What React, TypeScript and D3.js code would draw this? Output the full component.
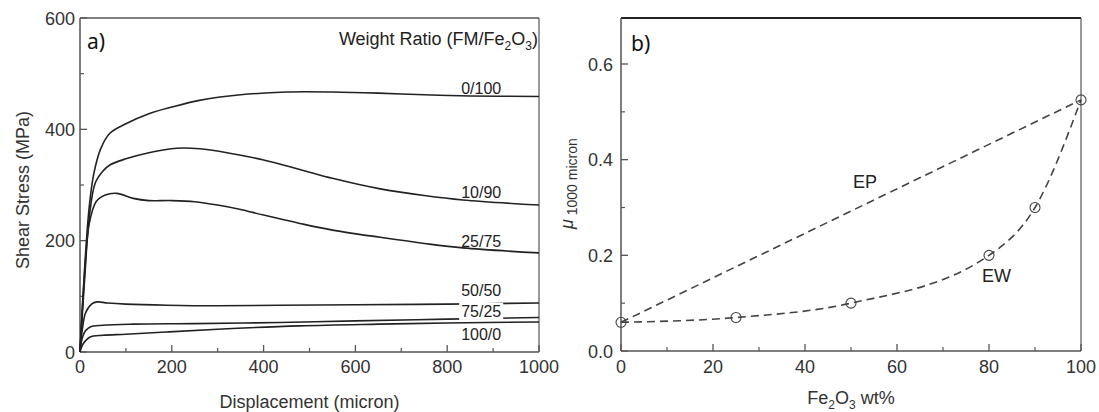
import React from "react";
import * as d3 from "d3";

// ---------- Data: panel a) shear stress vs displacement ----------
const ratioLabels = ["0/100", "10/90", "25/75", "50/50", "75/25", "100/0"];
const labelStress = [474, 287, 198, 111, 72, 31];

const curve0_100: [number, number][] = [[0,0],[10,150],[20,260],[30,320],[45,365],[65,393],[100,410],[150,428],[200,440],[260,452],[350,462],[450,467],[550,467],[650,465],[750,462],[850,460],[1000,459]];
const curve10_90: [number, number][] = [[0,0],[10,130],[20,240],[33,303],[50,325],[65,336],[100,347],[150,358],[211,366],[261,365],[320,358],[400,345],[479,328],[550,312],[654,293],[750,281],[834,273],[1000,264]];
const curve25_75: [number, number][] = [[0,0],[10,140],[20,230],[35,270],[55,282],[80,285],[116,276],[150,272],[200,272],[250,270],[300,264],[350,256],[400,246],[479,231],[550,219],[654,206],[750,195],[834,187],[1000,178]];
const curve50_50: [number, number][] = [[0,0],[5,40],[12,70],[25,86],[37,90],[60,88],[100,86],[189,84],[300,83],[436,84],[600,85],[800,86],[1000,88]];
const curve75_25: [number, number][] = [[0,0],[5,25],[12,38],[22,45],[50,48],[116,50],[250,51],[436,53],[600,56],[800,59],[1000,62]];
const curve100_0: [number, number][] = [[0,0],[5,12],[12,20],[22,27],[50,30],[100,32],[189,36],[300,41],[479,47],[650,50],[800,52],[1000,54]];
const curvesA = [curve0_100, curve10_90, curve25_75, curve50_50, curve75_25, curve100_0];

const xTicksA = [0, 200, 400, 600, 800, 1000];
const xMinorA = [100, 300, 500, 700, 900];
const yTicksA = [0, 200, 400, 600];
const yMinorA = [100, 300, 500];

// ---------- Data: panel b) friction coefficient vs Fe2O3 wt% ----------
const fe2o3 = [0, 25, 50, 80, 90, 100];
const muEW = [0.06, 0.07, 0.1, 0.2, 0.3, 0.525];
const epX = [0, 100];
const epY = [0.06, 0.525];

const xTicksB = [0, 20, 40, 60, 80, 100];
const xMinorB = [10, 30, 50, 70, 90];
const yTicksB = [0, 0.2, 0.4, 0.6];
const yMinorB = [0.1, 0.3, 0.5];

const FONT = "'Liberation Sans', Arial, Helvetica, sans-serif";
const AXIS = "#555";
const TXT = "#333";

export default function App() {
  // panel a scales
  const xA = d3.scaleLinear().domain([0, 1000]).range([80, 539]);
  const yA = d3.scaleLinear().domain([0, 600]).range([352, 18]);
  const lineA = d3
    .line<[number, number]>()
    .x((d) => xA(d[0]))
    .y((d) => yA(d[1]))
    .curve(d3.curveCatmullRom.alpha(0.5));

  // panel b scales
  const xB = d3.scaleLinear().domain([0, 100]).range([621, 1081]);
  const yB = d3.scaleLinear().domain([0, 0.6]).range([351, 64]);
  const yBTop = yB.invert(18);
  const lineEW = d3
    .line<number>()
    .x((_, i) => xB(fe2o3[i]))
    .y((d) => yB(d))
    .curve(d3.curveMonotoneX);
  const lineEP = d3
    .line<number>()
    .x((_, i) => xB(epX[i]))
    .y((d) => yB(d));

  const labelX = 874;

  return (
    <svg
      width={1099}
      height={412}
      style={{ position: "absolute", left: 0, top: 0, background: "#fff" }}
      fontFamily={FONT}
    >
      {/* ================= Panel a ================= */}
      <line x1={xA(0)} x2={xA(1000)} y1={yA(600)} y2={yA(600)} stroke={AXIS} strokeWidth={1.5} />
      <line x1={xA(1000)} x2={xA(1000)} y1={yA(600)} y2={yA(0)} stroke={AXIS} strokeWidth={1.2} />
      <line x1={xA(0)} x2={xA(1000)} y1={yA(0)} y2={yA(0)} stroke={AXIS} strokeWidth={1.5} />
      <line x1={xA(0)} x2={xA(0)} y1={yA(600)} y2={yA(0)} stroke={AXIS} strokeWidth={1.5} />
      {xTicksA.map((t) => (
        <g key={"xa" + t}>
          <line x1={xA(t)} x2={xA(t)} y1={yA(0)} y2={yA(0) - 7} stroke={AXIS} strokeWidth={1.3} />
          <text x={xA(t)} y={373} textAnchor="middle" fontSize={18} fill={TXT}>{t}</text>
        </g>
      ))}
      {xMinorA.map((t) => (
        <line key={"xam" + t} x1={xA(t)} x2={xA(t)} y1={yA(0)} y2={yA(0) - 4} stroke={AXIS} strokeWidth={1.2} />
      ))}
      {yTicksA.map((t) => (
        <g key={"ya" + t}>
          <line x1={xA(0)} x2={xA(0) + 7} y1={yA(t)} y2={yA(t)} stroke={AXIS} strokeWidth={1.3} />
          <text x={75} y={yA(t) + 6.5} textAnchor="end" fontSize={18} fill={TXT}>{t}</text>
        </g>
      ))}
      {yMinorA.map((t) => (
        <line key={"yam" + t} x1={xA(0)} x2={xA(0) + 4} y1={yA(t)} y2={yA(t)} stroke={AXIS} strokeWidth={1.2} />
      ))}
      <text x={(xA(0) + xA(1000)) / 2} y={408} textAnchor="middle" fontSize={18} fill={TXT}>
        Displacement (micron)
      </text>
      <text transform={`translate(29, ${190}) rotate(-90)`} textAnchor="middle" fontSize={18} fill={TXT}>
        Shear Stress (MPa)
      </text>
      {curvesA.map((c, i) => (
        <path key={"c" + i} d={lineA(c) || ""} fill="none" stroke="#222" strokeWidth={1.6} />
      ))}
      {ratioLabels.map((l, i) => (
        <g key={"l" + l}>
          {l === "75/25" && (
            <rect x={xA(labelX) - 22} y={yA(labelStress[i]) - 9} width={44} height={17} fill="#fff" />
          )}
          <text x={xA(labelX)} y={yA(labelStress[i]) + 5.5} textAnchor="middle" fontSize={16} fill="#222">
            {l}
          </text>
        </g>
      ))}
      <text x={538} y={45} textAnchor="end" fontSize={18} fill="#222">
        Weight Ratio (FM/Fe
        <tspan fontSize={12} dy={5}>2</tspan>
        <tspan dy={-5}>O</tspan>
        <tspan fontSize={12} dy={5}>3</tspan>
        <tspan dy={-5}>)</tspan>
      </text>
      <text x={87} y={49} fontSize={21} fill="#111" fontFamily="'Noto Sans', 'Open Sans', sans-serif">a)</text>

      {/* ================= Panel b ================= */}
      <line x1={xB(0)} x2={xB(100)} y1={yB(yBTop)} y2={yB(yBTop)} stroke="#222" strokeWidth={2} />
      <line x1={xB(100)} x2={xB(100)} y1={yB(yBTop)} y2={yB(0)} stroke={AXIS} strokeWidth={1.2} />
      <line x1={xB(0)} x2={xB(100)} y1={yB(0)} y2={yB(0)} stroke={AXIS} strokeWidth={1.5} />
      <line x1={xB(0)} x2={xB(0)} y1={yB(yBTop)} y2={yB(0)} stroke={AXIS} strokeWidth={1.5} />
      {xTicksB.map((t) => (
        <g key={"xb" + t}>
          <line x1={xB(t)} x2={xB(t)} y1={yB(0)} y2={yB(0) - 7} stroke={AXIS} strokeWidth={1.3} />
          <text x={xB(t)} y={373} textAnchor="middle" fontSize={18} fill={TXT}>{t}</text>
        </g>
      ))}
      {xMinorB.map((t) => (
        <line key={"xbm" + t} x1={xB(t)} x2={xB(t)} y1={yB(0)} y2={yB(0) - 4} stroke={AXIS} strokeWidth={1.2} />
      ))}
      {yTicksB.map((t) => (
        <g key={"yb" + t}>
          <line x1={xB(0)} x2={xB(0) + 7} y1={yB(t)} y2={yB(t)} stroke={AXIS} strokeWidth={1.3} />
          <text x={613} y={yB(t) + 6.5} textAnchor="end" fontSize={18} fill={TXT}>{t.toFixed(1)}</text>
        </g>
      ))}
      {yMinorB.map((t) => (
        <line key={"ybm" + t} x1={xB(0)} x2={xB(0) + 4} y1={yB(t)} y2={yB(t)} stroke={AXIS} strokeWidth={1.2} />
      ))}
      <text x={(xB(0) + xB(100)) / 2} y={404} textAnchor="middle" fontSize={18} fill={TXT}>
        Fe<tspan fontSize={12} dy={5}>2</tspan>
        <tspan dy={-5}>O</tspan>
        <tspan fontSize={12} dy={5}>3</tspan>
        <tspan dy={-5}> wt%</tspan>
      </text>
      <text transform="translate(573, 229) rotate(-90)" textAnchor="start" fontSize={18} fill={TXT}>
        <tspan fontStyle="italic">μ</tspan>
        <tspan fontSize={14} dy={4}> 1000 micron</tspan>
      </text>
      <path d={lineEP(epY) || ""} fill="none" stroke="#444" strokeWidth={1.6} strokeDasharray="8,5" />
      <path d={lineEW(muEW) || ""} fill="none" stroke="#444" strokeWidth={1.6} strokeDasharray="8,5" />
      {muEW.map((v, i) => (
        <circle key={"p" + i} cx={xB(fe2o3[i])} cy={yB(v)} r={5} fill="none" stroke="#444" strokeWidth={1.1} />
      ))}
      <text x={853} y={188} fontSize={18} fill="#222">EP</text>
      <text x={982} y={282} fontSize={18} fill="#222">EW</text>
      <text x={631} y={51} fontSize={21} fill="#111" fontFamily="'Noto Sans', 'Open Sans', sans-serif">b)</text>
    </svg>
  );
}
